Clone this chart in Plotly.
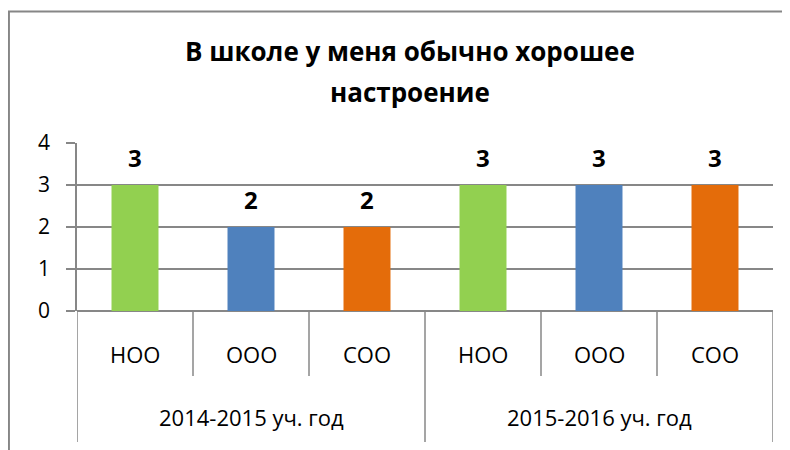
import plotly.graph_objects as go

title_lines = ["В школе у меня обычно хорошее", "настроение"]
years = ["2014-2015 уч. год", "2015-2016 уч. год"]
levels = ["НОО", "ООО", "СОО"]
values = [3, 2, 2, 3, 3, 3]
colors = ["#92D050", "#4F81BD", "#E46C0A", "#92D050", "#4F81BD", "#E46C0A"]
y_ticks = [0, 1, 2, 3, 4]

FONT = "Open Sans"
GRID = "#878787"

x_pos = list(range(len(values)))
n = len(values)

fig = go.Figure()
fig.add_trace(go.Bar(
    x=x_pos, y=values, marker=dict(color=colors, line=dict(width=0)),
    width=0.405, hoverinfo="skip",
))

# data labels
for x, v in zip(x_pos, values):
    fig.add_annotation(x=x, y=v, xref="x", yref="y", text="<b>%d</b>" % v,
                       showarrow=False, yshift=28, yanchor="middle",
                       font=dict(family=FONT, size=24, color="#000"))

# level-1 labels
for i, x in enumerate(x_pos):
    fig.add_annotation(x=x, y=-0.256, xref="x", yref="paper", text=levels[i % 3],
                       showarrow=False, font=dict(family=FONT, size=22, color="#000"),
                       yanchor="middle")
# level-2 labels
for g, yr in enumerate(years):
    fig.add_annotation(x=g * 3 + 1, y=-0.631, xref="x", yref="paper", text=yr,
                       showarrow=False, font=dict(family=FONT, size=22, color="#000"),
                       yanchor="middle")

# title lines
for yy, line in zip([1.545, 1.305], title_lines):
    fig.add_annotation(x=0.478, y=yy, xref="paper", yref="paper", text="<b>" + line + "</b>",
                       showarrow=False, xanchor="center", yanchor="middle",
                       font=dict(family=FONT, size=26, color="#000"))

shapes = []
for k in range(n + 1):
    xb = k - 0.5
    full = (k % 3 == 0)
    shapes.append(dict(type="line", xref="x", yref="paper", x0=xb, x1=xb,
                       y0=0, y1=(-0.78 if full else -0.387),
                       line=dict(color=GRID, width=1.5)))
# outer border
shapes.append(dict(type="rect", xref="paper", yref="paper", x0=-0.0978, x1=1.04,
                   y0=-0.9, y1=1.783, line=dict(color="#868686", width=2)))

fig.update_layout(
    width=782, height=442,
    margin=dict(l=69, r=17, t=135, b=139),
    paper_bgcolor="white", plot_bgcolor="white",
    showlegend=False,
    shapes=shapes,
    xaxis=dict(range=[-0.5, n - 0.5], showticklabels=False, ticks="", showgrid=False,
               zeroline=False, showline=False, fixedrange=True),
    yaxis=dict(range=[0, 4], tickvals=y_ticks, showgrid=True, gridcolor=GRID, gridwidth=1.5,
               zeroline=True, zerolinecolor=GRID, zerolinewidth=1.5,
               showline=True, linecolor=GRID, linewidth=1.5,
               ticks="outside", ticklen=9, tickcolor=GRID, tickwidth=1.5,
               tickfont=dict(family=FONT, size=21, color="#000"), ticklabelstandoff=12),
)

fig.write_html("out.html")
